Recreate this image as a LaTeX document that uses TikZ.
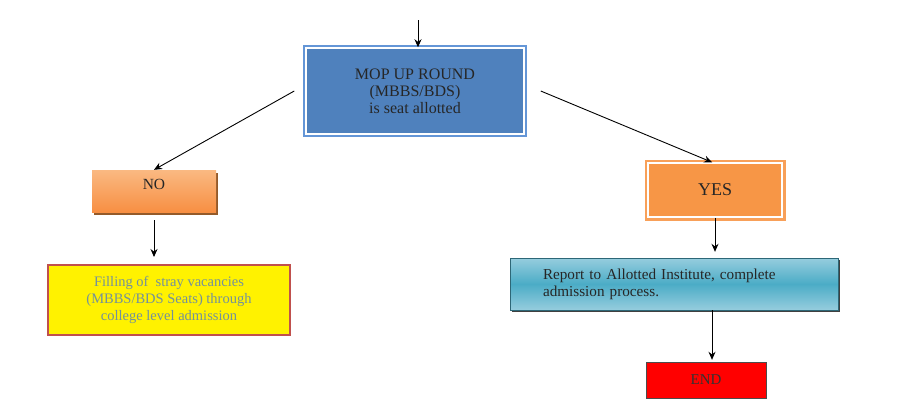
\documentclass[tikz,border=0pt]{standalone}
\usepackage{fontspec}
\setmainfont{Liberation Serif}
\usetikzlibrary{arrows.meta,shadows}
\definecolor{mopblue}{RGB}{79,129,189}
\definecolor{mopedge}{RGB}{100,150,215}
\definecolor{yesorange}{RGB}{247,150,70}
\definecolor{noorange}{RGB}{250,185,130}
\definecolor{reportcyan}{RGB}{75,172,198}
\definecolor{reportlight}{RGB}{150,205,222}
\definecolor{fillred}{RGB}{192,80,77}
\definecolor{filltext}{RGB}{115,145,155}
\tikzset{
  box/.style={minimum width=#1,align=center,inner sep=0pt},
  link/.style={-{Stealth[length=8pt,width=7pt]},line width=0.9pt,black}
}
\begin{document}
\begin{tikzpicture}[x=1pt,y=-1pt]
\useasboundingbox (0,0) rectangle (904,415);
\coordinate (top) at (418,20);
\node[box=218pt,minimum height=86pt,fill=mopblue,draw=white,line width=1.5pt,
  preaction={draw=mopedge,line width=6pt},font=\fontsize{16}{17}\selectfont,text=black!85]
  (mop) at (415,91) {MOP UP ROUND\\(MBBS/BDS)\\is seat allotted};
\node[box=124pt,minimum height=42pt,top color=noorange,bottom color=yesorange!95!red,
  drop shadow={shadow xshift=2pt,shadow yshift=-3pt,fill=yesorange!60!black,opacity=1},
  font=\fontsize{15.5}{17}\selectfont,text height=19pt,text depth=23pt,text=black!85]
  (no) at (154,191) {NO};
\node[box=134pt,minimum height=54pt,fill=yesorange,draw=white,line width=1.5pt,
  preaction={draw=yesorange!90!white,line width=7pt},font=\fontsize{18}{20}\selectfont,text=black!85]
  (yes) at (715,190) {YES};
\node[box=242pt,minimum height=70pt,fill=yellow,draw=fillred,line width=2pt,
  font=\fontsize{14.5}{17}\selectfont,text=filltext]
  (fill) at (169,300) {Filling of~ stray vacancies\\(MBBS/BDS Seats) through\\college level admission};
\node[minimum height=52pt,text width=262pt,inner xsep=33pt,align=left,
  top color=reportlight,bottom color=reportlight,middle color=reportcyan,
  draw=reportcyan!60!black,thin,
  drop shadow={shadow xshift=2pt,shadow yshift=-2pt,fill=black!75,opacity=1},
  font=\fontsize{15.2}{17}\selectfont,text=black!85]
  (report) at (674,284) {Report to Allotted Institute, complete\\admission process.};
\node[box=120pt,minimum height=36pt,fill=red,draw=black!70,thin,
  font=\fontsize{15}{17}\selectfont,text=black!80]
  (stop) at (706,380) {END};
\draw[link] (top) -- (top |- mop.north);
\draw[link] ([xshift=-11pt]mop.west) -- (no.north);
\draw[link] ([xshift=16pt]mop.east) -- ([xshift=-3pt]yes.north);
\draw[link,shorten <=8pt,shorten >=7pt] (no.south) -- (no.south |- fill.north);
\draw[link,shorten >=6pt] (yes.south) -- (yes.south |- report.north);
\draw[link,shorten >=2pt] ([xshift=38pt]report.south) -- ([xshift=38pt]report.south |- stop.north);
\end{tikzpicture}
\end{document}
